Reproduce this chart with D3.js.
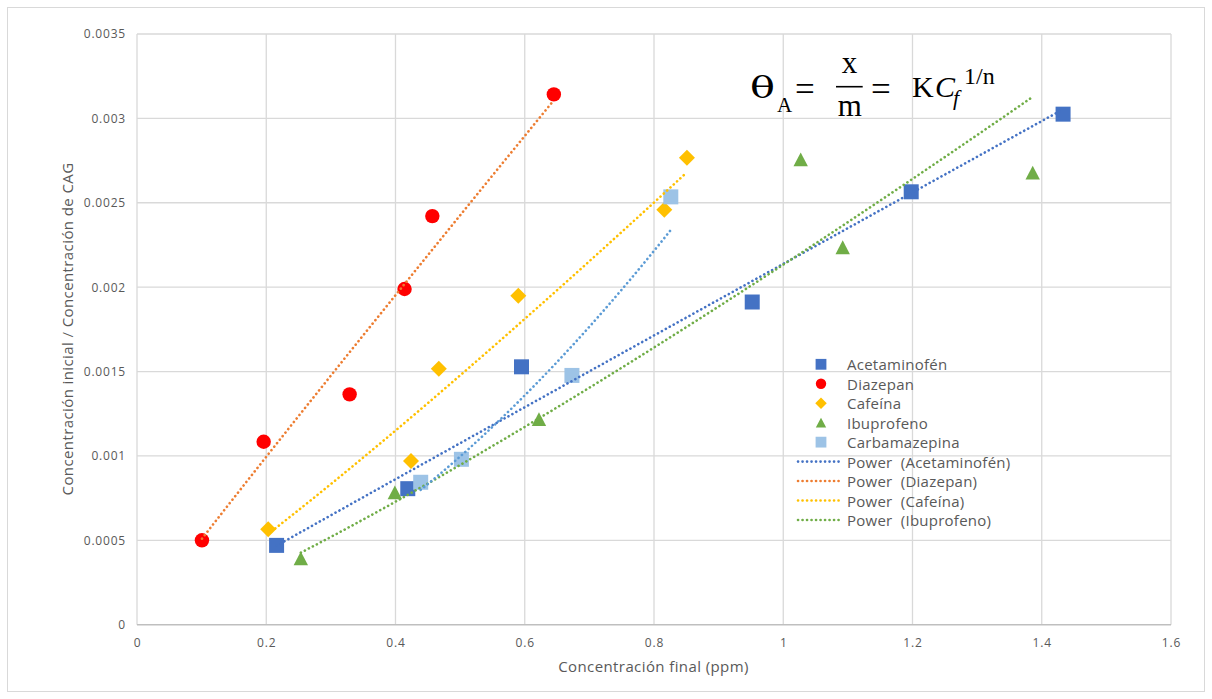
<!DOCTYPE html>
<html>
<head>
<meta charset="utf-8">
<script src="https://cdn.jsdelivr.net/npm/d3@7"></script>
<style>
  body { margin: 0; background: #fff; }
  svg { display: block; }
  text { font-family: "Open Sans", "Liberation Sans", sans-serif; fill: #595959; }
  .formula text { font-family: "Liberation Serif", "DejaVu Serif", serif; fill: #000; }
</style>
</head>
<body>
<svg id="chart" width="1212" height="699"></svg>
<script>
// Final concentration (ppm) and uptake ratio for each compound
const acetaminofenX  = [0.216, 0.419, 0.595, 0.952, 1.198, 1.433];
const acetaminofenY  = [0.000470, 0.000806, 0.001528, 0.001912, 0.002565, 0.003025];
const diazepanX      = [0.1005, 0.196, 0.329, 0.414, 0.457, 0.645];
const diazepanY      = [0.000500, 0.001084, 0.001365, 0.001989, 0.002421, 0.003142];
const cafeinaX       = [0.203, 0.424, 0.467, 0.590, 0.816, 0.851];
const cafeinaY       = [0.000565, 0.000970, 0.001517, 0.001949, 0.002458, 0.002767];
const ibuprofenoX    = [0.2535, 0.399, 0.622, 1.027, 1.092, 1.386];
const ibuprofenoY    = [0.000392, 0.000784, 0.001217, 0.002757, 0.002236, 0.002678];
const carbamazepinaX = [0.439, 0.502, 0.673, 0.826];
const carbamazepinaY = [0.000844, 0.000980, 0.001477, 0.002535];

const seriesNames  = ["Acetaminofén", "Diazepan", "Cafeína", "Ibuprofeno", "Carbamazepina"];
const xTickValues  = [0, 0.2, 0.4, 0.6, 0.8, 1, 1.2, 1.4, 1.6];
const yTickValues  = [0, 0.0005, 0.001, 0.0015, 0.002, 0.0025, 0.003, 0.0035];
const yTickLabels  = ["0", "0.0005", "0.001", "0.0015", "0.002", "0.0025", "0.003", "0.0035"];

const series = [
  { name: seriesNames[0], xs: acetaminofenX,  ys: acetaminofenY,  marker: "square",   fill: "#4472C4", trend: "#4472C4", inLegend: true },
  { name: seriesNames[1], xs: diazepanX,      ys: diazepanY,      marker: "circle",   fill: "#FF0000", trend: "#ED7D31", inLegend: true },
  { name: seriesNames[2], xs: cafeinaX,       ys: cafeinaY,       marker: "diamond",  fill: "#FFC000", trend: "#FFC000", inLegend: true },
  { name: seriesNames[3], xs: ibuprofenoX,    ys: ibuprofenoY,    marker: "triangle", fill: "#70AD47", trend: "#70AD47", inLegend: true },
  { name: seriesNames[4], xs: carbamazepinaX, ys: carbamazepinaY, marker: "square",   fill: "#9DC3E6", trend: "#5B9BD5", inLegend: false }
];

const svg = d3.select("#chart");
const plotLeft = 137, plotRight = 1171, plotTop = 34, plotBottom = 624.7;
const x = d3.scaleLinear().domain([0, 1.6]).range([plotLeft, plotRight]);
const y = d3.scaleLinear().domain([0, 0.0035]).range([plotBottom, plotTop]);

// chart frame
svg.append("rect").attr("x", 7.5).attr("y", 7.5).attr("width", 1197).attr("height", 684)
  .attr("fill", "#fff").attr("stroke", "#d9d9d9").attr("stroke-width", 1);

// gridlines
const grid = svg.append("g");
grid.selectAll("line.v").data(xTickValues).join("line").attr("class", "v")
  .attr("x1", d => x(d)).attr("x2", d => x(d)).attr("y1", plotTop).attr("y2", plotBottom)
  .attr("stroke", "#d9d9d9").attr("stroke-width", 1.3);
grid.selectAll("line.h").data(yTickValues.slice(1)).join("line").attr("class", "h")
  .attr("x1", plotLeft).attr("x2", plotRight).attr("y1", d => y(d)).attr("y2", d => y(d))
  .attr("stroke", "#d9d9d9").attr("stroke-width", 1.3);
svg.append("line").attr("x1", plotLeft).attr("x2", plotRight).attr("y1", plotBottom).attr("y2", plotBottom)
  .attr("stroke", "#bfbfbf").attr("stroke-width", 1.6);

// axes (labels only)
const xAxis = svg.append("g").attr("transform", `translate(0,${plotBottom})`)
  .call(d3.axisBottom(x).tickValues(xTickValues).tickSize(0).tickPadding(14).tickFormat(d3.format("")));
const yAxis = svg.append("g").attr("transform", `translate(${plotLeft},0)`)
  .call(d3.axisLeft(y).tickValues(yTickValues).tickSize(0).tickPadding(11).tickFormat((d, i) => yTickLabels[i]));
[xAxis, yAxis].forEach(a => {
  a.select(".domain").remove();
  a.selectAll("text").attr("fill", "#595959").style("font-family", '"Open Sans", sans-serif')
    .style("font-size", "12px").style("letter-spacing", "0.8px");
});

// axis titles
svg.append("text").attr("x", 653.5).attr("y", 672).attr("text-anchor", "middle")
  .style("font-size", "15px").style("letter-spacing", "0.4px").text("Concentración final (ppm)");
svg.append("text").attr("transform", "translate(73,329) rotate(-90)").attr("text-anchor", "middle")
  .style("font-size", "15px").style("letter-spacing", "0.4px").text("Concentración inicial / Concentración de CAG");

// marker shapes
function markerPath(type) {
  switch (type) {
    case "square":   return "M-7.5,-7.5H7.5V7.5H-7.5Z";
    case "circle":   return d3.symbol(d3.symbolCircle, Math.PI * 7.2 * 7.2)();
    case "diamond":  return "M0,-8L8,0L0,8L-8,0Z";
    case "triangle": return "M0,-7L7.2,6.8L-7.2,6.8Z";
  }
}

// power trendline y = a * x^b fitted in log space
function powerFit(xs, ys) {
  const lx = xs.map(Math.log), ly = ys.map(Math.log);
  const mx = d3.mean(lx), my = d3.mean(ly);
  const b = d3.sum(lx, (v, i) => (v - mx) * (ly[i] - my)) / d3.sum(lx, v => (v - mx) ** 2);
  const a = Math.exp(my - b * mx);
  return xv => a * Math.pow(xv, b);
}

const markers = svg.append("g");
series.forEach(s => {
  markers.selectAll(null).data(s.xs.map((xv, i) => [xv, s.ys[i]])).join("path")
    .attr("d", markerPath(s.marker))
    .attr("transform", d => `translate(${x(d[0])},${y(d[1])})`)
    .attr("fill", s.fill);
});

const line = d3.line().x(d => x(d[0])).y(d => y(d[1]));
const trends = svg.append("g");
series.forEach(s => {
  const f = powerFit(s.xs, s.ys);
  const [x0, x1] = d3.extent(s.xs);
  const pts = d3.range(0, 101).map(k => { const xv = x0 + (x1 - x0) * k / 100; return [xv, f(xv)]; });
  trends.append("path").attr("d", line(pts)).attr("fill", "none")
    .attr("stroke", s.trend).attr("stroke-width", 2.6)
    .attr("stroke-linecap", "round").attr("stroke-dasharray", "0.1 4.4");
});

// legend
const legend = svg.append("g");
const rowY = i => 364.3 + i * 19.46;
series.forEach((s, i) => {
  legend.append("path").attr("d", markerPath(s.marker))
    .attr("transform", `translate(821,${rowY(i)}) scale(0.72)`).attr("fill", s.fill);
  legend.append("text").attr("x", 847).attr("y", rowY(i) + 6).style("font-size", "15px")
    .style("letter-spacing", "0.25px").text(s.name);
});
series.filter(s => s.inLegend).forEach((s, j) => {
  const i = j + 5;
  legend.append("line").attr("x1", 798).attr("x2", 842).attr("y1", rowY(i)).attr("y2", rowY(i))
    .attr("stroke", s.trend).attr("stroke-width", 2.6)
    .attr("stroke-linecap", "round").attr("stroke-dasharray", "0.1 4.4");
  legend.append("text").attr("x", 847).attr("y", rowY(i) + 6).style("font-size", "15px")
    .style("letter-spacing", "0.25px").attr("xml:space", "preserve").text(`Power  (${s.name})`);
});

// Freundlich isotherm expression
const fm = svg.append("g").attr("class", "formula");
fm.append("text").attr("x", 750).attr("y", 98).style("font-size", "30px")
  .style("font-family", '"DejaVu Serif", serif')
  .attr("textLength", 25).attr("lengthAdjust", "spacingAndGlyphs").text("θ");
fm.append("text").attr("x", 777).attr("y", 112).style("font-size", "21px").text("A");
fm.append("text").attr("x", 795).attr("y", 101).style("font-size", "35px").text("=");
fm.append("text").attr("x", 849.5).attr("y", 73).attr("text-anchor", "middle").style("font-size", "31px").text("x");
fm.append("line").attr("x1", 836).attr("x2", 862.7).attr("y1", 86.7).attr("y2", 86.7).attr("stroke", "#000").attr("stroke-width", 1.6);
fm.append("text").attr("x", 849.7).attr("y", 116).attr("text-anchor", "middle").style("font-size", "31px").text("m");
fm.append("text").attr("x", 871).attr("y", 101).style("font-size", "35px").text("=");
fm.append("text").attr("x", 912).attr("y", 97).style("font-size", "30px").text("K");
fm.append("text").attr("x", 935).attr("y", 97).style("font-size", "30px").style("font-style", "italic").text("C");
fm.append("text").attr("x", 953).attr("y", 105).style("font-size", "22px").style("font-style", "italic").text("f");
fm.append("text").attr("x", 964).attr("y", 84).style("font-size", "24px").text("1/n");
</script>
</body>
</html>
